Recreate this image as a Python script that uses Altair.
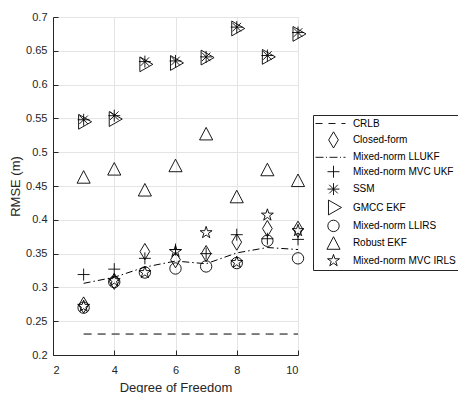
import math
import altair as alt
import pandas as pd

dof = [3, 4, 5, 6, 7, 8, 9, 10]
crlb = [0.231] * 8
closed_form = [0.274, 0.309, 0.353, 0.341, 0.350, 0.367, 0.387, 0.386]
llukf = [0.306, 0.315, 0.330, 0.339, 0.335, 0.351, 0.359, 0.356]
mvc_ukf = [0.319, 0.327, 0.343, 0.356, 0.350, 0.378, 0.372, 0.371]
ssm = [0.548, 0.554, 0.634, 0.635, 0.641, 0.685, 0.643, 0.677]
gmcc = [0.545, 0.549, 0.630, 0.632, 0.640, 0.683, 0.641, 0.675]
llirs = [0.270, 0.308, 0.322, 0.328, 0.331, 0.336, 0.369, 0.343]
robust = [0.463, 0.475, 0.444, 0.480, 0.527, 0.434, 0.474, 0.458]
irls = [0.272, 0.310, 0.322, 0.353, 0.381, 0.337, 0.407, 0.384]

names = ["CRLB", "Closed-form", "Mixed-norm LLUKF", "Mixed-norm MVC UKF", "SSM",
         "GMCC EKF", "Mixed-norm LLIRS", "Robust EKF", "Mixed-norm MVC IRLS"]
y_ticks = [0.2, 0.25, 0.3, 0.35, 0.4, 0.45, 0.5, 0.55, 0.6, 0.65, 0.7]
x_ticks = [2, 4, 6, 8, 10]

# marker shapes (unit paths)
def star_path(R=1.1, r=0.42):
    pts = []
    for i in range(10):
        a = math.radians(-90 + 36 * i)
        rad = R if i % 2 == 0 else r
        pts.append(f"{rad*math.cos(a):.3f},{rad*math.sin(a):.3f}")
    return "M" + "L".join(pts) + "Z"

shapes = {
    "CRLB": "M-3.16,0H-1.93M-0.88,0H0.35M1.4,0H2.1",
    "Closed-form": "M0,-1.42L0.85,0L0,1.42L-0.85,0Z",
    "Mixed-norm LLUKF": "M-3.16,0H-1.75M-1.32,0H-1.14M-0.7,0H0.7M1.14,0H1.32M1.75,0H2.1",
    "Mixed-norm MVC UKF": "M-1.05,0H1.05M0,-1.05V1.05",
    "SSM": "M-1.05,0H1.05M0,-1.05V1.05M-0.75,-0.75L0.75,0.75M-0.75,0.75L0.75,-0.75",
    "GMCC EKF": "M-0.88,-1.3L1.4,0L-0.88,1.3Z",
    "Mixed-norm LLIRS": "M1,0A1,1,0,1,1,-1,0A1,1,0,1,1,1,0Z",
    "Robust EKF": "M0,-1.15L1.15,1.05L-1.15,1.05Z",
    "Mixed-norm MVC IRLS": star_path(),
}

series = {
    "Closed-form": closed_form,
    "Mixed-norm MVC UKF": mvc_ukf,
    "SSM": ssm,
    "GMCC EKF": gmcc,
    "Mixed-norm LLIRS": llirs,
    "Robust EKF": robust,
    "Mixed-norm MVC IRLS": irls,
}
rows = []
for name, vals in series.items():
    for d, v in zip(dof, vals):
        rows.append({"dof": d, "rmse": v, "method": name})
pts_df = pd.DataFrame(rows)
crlb_df = pd.DataFrame({"dof": dof, "rmse": crlb})
llukf_df = pd.DataFrame({"dof": dof, "rmse": llukf})

FONT = "Liberation Sans"
AX = "#262626"
W, H = 245, 338
xs = alt.Scale(domain=[2, 10], nice=False)
ys = alt.Scale(domain=[0.2, 0.7], nice=False)

points = alt.Chart(pts_df).mark_point(
    filled=False, stroke="black", strokeWidth=0.9, size=130, opacity=1
).encode(
    x=alt.X("dof:Q", scale=xs, axis=alt.Axis(
        values=x_ticks, title="Degree of Freedom", grid=True, ticks=False, tickSize=0,
        labelPadding=9, labelFontSize=11, labelColor=AX, labelFont=FONT,
        titleFont=FONT, titleFontSize=13, titleFontWeight="normal", titleColor=AX,
        titleX=W / 2, titleY=36, titleAlign="center", titleBaseline="alphabetic",
        domainColor=AX, domainWidth=1, gridColor="#e4e4e4", gridWidth=1)),
    y=alt.Y("rmse:Q", scale=ys, axis=alt.Axis(
        values=y_ticks, format=".2~f", title="RMSE (m)", grid=True, ticks=False, tickSize=0,
        labelPadding=6, labelFontSize=11, labelColor=AX, labelFont=FONT,
        titleFont=FONT, titleFontSize=13, titleFontWeight="normal", titleColor=AX,
        titleAngle=270, titleX=-31, titleY=H / 2, titleAlign="center", titleBaseline="bottom",
        domainColor=AX, domainWidth=1, gridColor="#e4e4e4", gridWidth=1)),
    shape=alt.Shape("method:N", scale=alt.Scale(domain=names, range=[shapes[n] for n in names]),
                    legend=alt.Legend(
                        title=None, orient="none", legendX=260, legendY=98,
                        labelFont=FONT, labelFontSize=10, labelColor="black", labelLimit=300,
                        symbolSize=130, symbolStrokeWidth=0.9, symbolStrokeColor="black",
                        symbolFillColor="transparent", rowPadding=0.4, padding=2,
                        symbolOffset=12, labelOffset=12.9,
                        strokeColor=AX, fillColor="white")),
)

crlb_line = alt.Chart(crlb_df).mark_line(
    color="black", strokeWidth=1, strokeDash=[8, 6]
).encode(
    x=alt.X("dof:Q", scale=xs, axis=alt.Axis(
        orient="top", offset=-H, values=x_ticks, labels=False, domain=False, grid=False,
        ticks=True, tickSize=5, tickColor=AX, title=None)),
    y=alt.Y("rmse:Q", scale=ys, axis=alt.Axis(
        orient="right", offset=-W, values=y_ticks, labels=False, domain=False, grid=False,
        ticks=True, tickSize=5, tickColor=AX, title=None)),
)

llukf_line = alt.Chart(llukf_df).mark_line(
    color="black", strokeWidth=1, strokeDash=[7, 3, 1.5, 3]
).encode(
    x=alt.X("dof:Q", scale=xs, axis=None),
    y=alt.Y("rmse:Q", scale=ys, axis=None),
)

chart = alt.layer(crlb_line, llukf_line, points).resolve_axis(
    x="independent", y="independent"
).properties(
    width=W, height=H,
    autosize=alt.AutoSizeParams(type="none"),
    padding={"left": 45, "top": 9, "right": 160, "bottom": 38},
    background="white",
).configure_view(stroke=None)

chart.save("out.html", embed_options={"renderer": "svg", "actions": False})
